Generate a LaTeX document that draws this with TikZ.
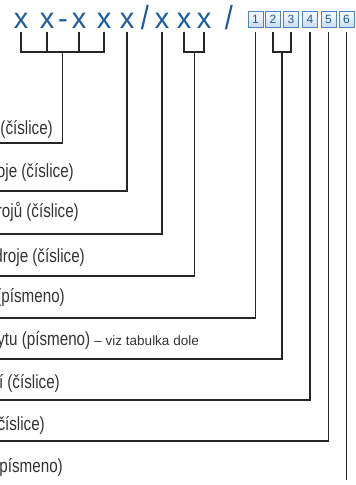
\documentclass[tikz,border=0pt]{standalone}
\usepackage{fontspec}
\setmainfont{Liberation Sans}[FakeStretch=0.8]
\newfontfamily\codefont{Liberation Sans}
\newfontfamily\notefont{Liberation Sans}[FakeStretch=1.0]
\usetikzlibrary{shadows}
\definecolor{codeblue}{HTML}{1C5C9C}
\definecolor{boxblue}{HTML}{4A86C5}
\definecolor{boxfill}{HTML}{C9DCEF}
\definecolor{textgray}{HTML}{333333}
\tikzstyle{letter} = [inner sep=0pt, anchor=base, text=codeblue, font=\codefont\fontsize{29}{29}\selectfont]
\tikzstyle{digit} = [rectangle, draw=boxblue, line width=0.8pt, top color=white, bottom color=boxfill, minimum width=15pt, minimum height=16pt, inner sep=0pt, text=codeblue, font=\codefont\fontsize{12}{12}\selectfont, drop shadow={shadow xshift=0.8pt, shadow yshift=-0.8pt, fill=black!40, opacity=0.6}]
\tikzstyle{desc} = [anchor=east, inner sep=0pt, text=textgray, font=\fontsize{19}{21}\selectfont]
\tikzstyle{wire} = [line width=1.8pt, draw=black!85]

\begin{document}
\begin{tikzpicture}[x=1pt, y=-1pt]
   \useasboundingbox (0,0) rectangle (356,485);
   \clip (0,0) rectangle (356,485);

   % code letters
   \node[letter] (x1) at (21,28)  {x};
   \node[letter] (x2) at (47,28)  {x};
   \node[letter] (dash) at (63,28) {-};
   \node[letter] (x3) at (79,28)  {x};
   \node[letter] (x4) at (104,28) {x};
   \node[letter] (x5) at (127,28) {x};
   \node[letter] (s1) at (145,29) {\scalebox{1}[1.15]{/}};
   \node[letter] (x6) at (162,28) {x};
   \node[letter] (x7) at (184,28) {x};
   \node[letter] (x8) at (204,28) {x};
   \node[letter] (s2) at (229,29) {\scalebox{1}[1.15]{/}};

   % digit boxes
   \node[digit] (k1) at (255.5,19) {1};
   \node[digit] (k2) at (273,19)   {2};
   \node[digit] (k3) at (291,19)   {3};
   \node[digit] (k4) at (310,19)   {4};
   \node[digit] (k5) at (328.5,19) {5};
   \node[digit] (k6) at (346.5,19) {6};

   % descriptions
   \node[desc] (t1) at (53,129)  {(číslice)};
   \node[desc] (t2) at (74,172)  {oje (číslice)};
   \node[desc] (t3) at (79,212)  {rojů (číslice)};
   \node[desc] (t4) at (85,257)  {droje (číslice)};
   \node[desc] (t5) at (65,297)  {(písmeno)};
   \node[desc] (t6) at (199,340) {ytu (písmeno) {\notefont\fontsize{13.5}{15}\selectfont – viz tabulka dole}};
   \node[desc] (t7) at (60,383)  {í (číslice)};
   \node[desc] (t8) at (45,425)  {číslice)};
   \node[desc] (t9) at (63,467)  {písmeno)};

   % joints and line ends
   \coordinate (j1) at (62.5,52);
   \coordinate (j2) at (194.5,52);
   \coordinate (j3) at (282,52);
   \coordinate (e1) at (-5,143);
   \coordinate (e2) at (-5,191);
   \coordinate (e3) at (-5,234);
   \coordinate (e4) at (-5,276);
   \coordinate (e5) at (-5,318);
   \coordinate (e6) at (-5,359);
   \coordinate (e7) at (-5,400);
   \coordinate (e8) at (-5,441);
   \coordinate (e9) at (346.5,480);

   % edges
   \draw[wire] ([yshift=-4pt]x1.south) -- (x1 |- j1) -- (x4 |- j1) -- ([yshift=-4pt]x4.south);
   \draw[wire] ([yshift=-4pt]x2.south) -- (x2 |- j1);
   \draw[wire] ([yshift=-4pt]x3.south) -- (x3 |- j1);
   \draw[wire] (j1) |- (e1);
   \draw[wire] ([yshift=-4pt]x5.south) |- (e2);
   \draw[wire] ([yshift=-4pt]x6.south) |- (e3);
   \draw[wire] ([yshift=-4pt]x7.south) -- (x7 |- j2) -- (x8 |- j2) -- ([yshift=-4pt]x8.south);
   \draw[wire] (j2) |- (e4);
   \draw[wire] ([yshift=-5pt]k1.south) |- (e5);
   \draw[wire] ([yshift=-5pt]k2.south) -- (k2 |- j3) -- (k3 |- j3) -- ([yshift=-5pt]k3.south);
   \draw[wire] (j3) |- (e6);
   \draw[wire] ([yshift=-5pt]k4.south) |- (e7);
   \draw[wire] ([yshift=-5pt]k5.south) |- (e8);
   \draw[wire] ([yshift=-5pt]k6.south) -- (e9);
\end{tikzpicture}
\end{document}
